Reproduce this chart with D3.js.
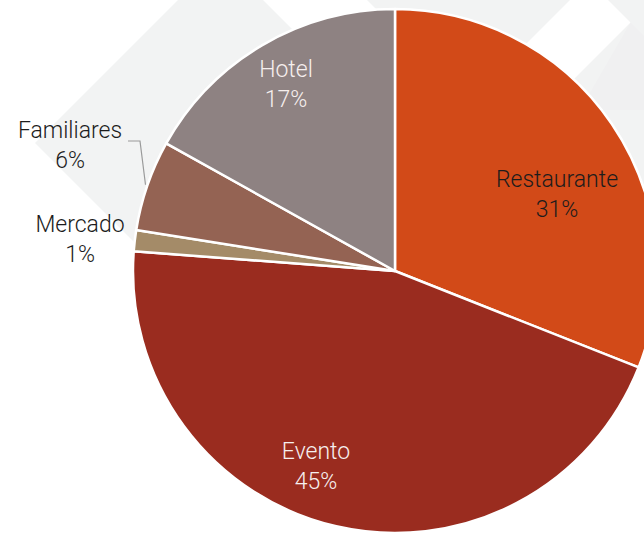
<!DOCTYPE html>
<html>
<head>
<meta charset="utf-8">
<script src="https://cdn.jsdelivr.net/npm/d3@7"></script>
<style>
  html, body { margin: 0; padding: 0; background: #ffffff; }
  svg { display: block; }
  text { font-family: Roboto, "Noto Sans", sans-serif; font-weight: 300; }
</style>
</head>
<body>
<svg id="chart" width="644" height="534"></svg>
<script>
// ---- data ----
const categories = ["Restaurante", "Evento", "Mercado", "Familiares", "Hotel"];
const values = [31, 45.2, 1.3, 5.6, 16.9];
const pctLabels = ["31%", "45%", "1%", "6%", "17%"];

// ---- styles / layout ----
const sliceColors = ["#d24a18", "#9a2c1f", "#a48b68", "#946353", "#8e8282"];
const labelColors = ["#1c1c1c", "#f6efee", "#1c1c1c", "#1c1c1c", "#f6efee"];
// label anchor offsets from pie centre (first baseline)
const labelOffsets = [[162, -84], [-79, 188], [-315, -39], [-325, -133], [-109, -194]];
const W = 644, H = 534;
const cx = 395, cy = 271, R = 262;

const svg = d3.select("#chart");

// ---- decorative background ----
const bg = svg.append("g");
bg.append("polygon")
  .attr("points", [[220.5, -42.5], [35, 143], [226, 334], [411.5, 148.5]].join(" "))
  .attr("fill", "#f2f3f3");
bg.append("polygon")
  .attr("points", [[367, 0], [644, 0], [644, 260], [500, 260], [500, 133]].join(" "))
  .attr("fill", "#f2f3f3");
bg.append("polygon")
  .attr("points", [[630.5, 22.5], [680, 72], [680, 110], [580, 110]].join(" "))
  .attr("fill", "#f0f0f1");
bg.append("polygon")
  .attr("points", [[589, -19], [630.5, 22.5], [476.5, 176.5], [435, 135]].join(" "))
  .attr("fill", "#ffffff");

// ---- pie ----
const pie = d3.pie().sort(null).value(d => d.value);
const data = categories.map((c, i) => ({ name: c, value: values[i], pct: pctLabels[i], i }));
const arcs = pie(data);
const arc = d3.arc().innerRadius(0).outerRadius(R);

const g = svg.append("g").attr("transform", `translate(${cx},${cy})`);

g.selectAll("path.slice")
  .data(arcs)
  .join("path")
  .attr("class", "slice")
  .attr("d", arc)
  .attr("fill", d => sliceColors[d.data.i])
  .attr("stroke", "#ffffff")
  .attr("stroke-width", 2.5)
  .attr("stroke-linejoin", "round");

// leader line for Familiares
const famArc = arcs[3];
const edgeArc = d3.arc().innerRadius(R + 2).outerRadius(R + 2);
const edgePt = edgeArc.centroid(famArc);
const famOff = labelOffsets[3];
g.append("polyline")
  .attr("points", [edgePt, [famOff[0] + 70, famOff[1] + 3], [famOff[0] + 58, famOff[1] + 3]].join(" "))
  .attr("fill", "none")
  .attr("stroke", "#9a9a9a")
  .attr("stroke-width", 1.2);

// labels
const labels = g.selectAll("text.lbl")
  .data(arcs)
  .join("text")
  .attr("class", "lbl")
  .attr("text-anchor", "middle")
  .attr("font-size", 23)
  .attr("fill", d => labelColors[d.data.i])
  .attr("transform", d => `translate(${labelOffsets[d.data.i][0]},${labelOffsets[d.data.i][1]})`);
labels.append("tspan").attr("x", 0).attr("y", 0).text(d => d.data.name);
labels.append("tspan").attr("x", 0).attr("y", 30).text(d => d.data.pct);
</script>
</body>
</html>
